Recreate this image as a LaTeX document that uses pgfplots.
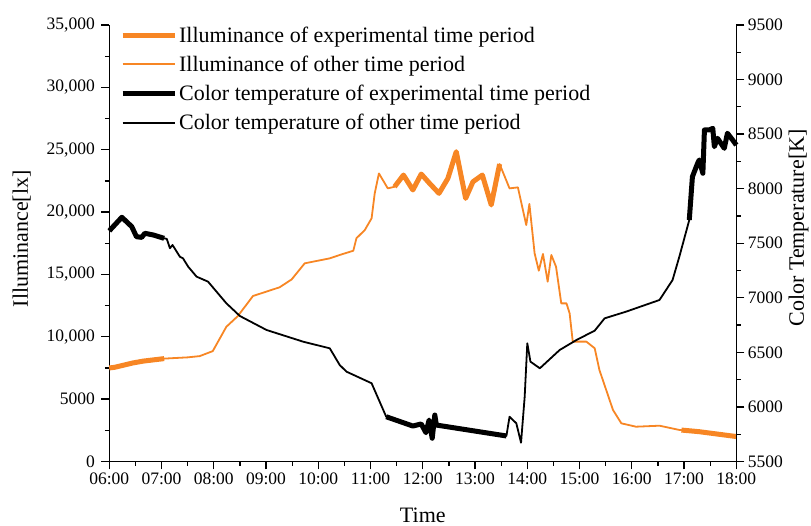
\documentclass[border=0pt]{standalone}
\usepackage{pgfplots}
\pgfplotsset{compat=1.18}
\usepackage{fontspec}
\setmainfont{Liberation Serif}
\definecolor{ora}{RGB}{247,134,36}
\pgfplotsset{
  common/.style={
    scale only axis, width=627pt, height=436.5pt,
    xmin=6, xmax=18,
    tick align=outside,
    major tick length=8pt, minor tick length=4.5pt,
    every tick/.style={line width=1.3pt, black},
    axis line style={line width=1.3pt},
    ticklabel style={font=\fontsize{17.5}{20}\selectfont},
    /pgf/number format/assume math mode=true,
    scaled y ticks=false,
    label style={font=\fontsize{22}{26}\selectfont},
    unbounded coords=jump,
    clip=false,
  }
}
\begin{document}
\begin{tikzpicture}
\path[use as bounding box] (-109.3pt,-64.5pt) rectangle (701.7pt,461.5pt);
\begin{axis}[common,
  axis x line*=bottom, axis y line*=left,
  ymin=0, ymax=35000,
  ytick={0,5000,10000,15000,20000,25000,30000,35000},
  yticklabels={0,5000,{10,000},{15,000},{20,000},{25,000},{30,000},{35,000}},
  yticklabel style={xshift=-3pt},
  minor y tick num=1,
  xtick={6,7,8,9,10,11,12,13,14,15,16,17,18},
  xticklabels={06:00,07:00,08:00,09:00,10:00,11:00,12:00,13:00,14:00,15:00,16:00,17:00,18:00},
  minor x tick num=1,
  xlabel={Time},
  xlabel style={at={(axis description cs:0.5,-0.1226)}, anchor=center},
  ylabel={Illuminance[lx]},
  ylabel style={at={(axis description cs:-0.1397,0.51)}, anchor=center, rotate=0},
]
% Illuminance, full series (thin)
\addplot[ora, line width=1.8pt, line join=round] coordinates {
(6.00,7500) (6.10,7550) (6.25,7700) (6.45,7900) (6.65,8050) (6.85,8150) (7.05,8250)
(7.50,8350) (7.73,8450) (7.98,8850) (8.24,10800) (8.46,11660) (8.75,13270)
(9.26,13970) (9.49,14600) (9.74,15890) (10.22,16290) (10.41,16560) (10.67,16900)
(10.73,17900) (10.89,18560) (11.02,19500) (11.08,21500) (11.16,23100) (11.33,21900)
(11.46,22030) (11.63,22970) (11.81,21770) (11.97,23050) (12.13,22300) (12.31,21500)
(12.48,22700) (12.64,24840) (12.82,21100) (12.96,22430) (13.14,22970) (13.31,20570)
(13.47,23850) (13.66,21900) (13.82,21980) (13.98,18960) (14.04,20650) (14.14,16690)
(14.22,15300) (14.30,16640) (14.39,14420) (14.46,16560) (14.55,15620) (14.65,12680)
(14.75,12680) (14.81,11880) (14.87,9610) (15.13,9610) (15.29,9080) (15.38,7340)
(15.64,4130) (15.80,3060) (16.08,2790) (16.53,2870) (16.91,2530) (17.29,2390)
(17.93,2040) (18.00,2000)
};
% Illuminance, experimental periods (thick)
\addplot[ora, line width=5pt, line join=round] coordinates {
(6.00,7500) (6.10,7550) (6.25,7700) (6.45,7900) (6.65,8050) (6.85,8150) (7.05,8250)
(7.06,nan)
(11.46,22030) (11.63,22970) (11.81,21770) (11.97,23050) (12.13,22300) (12.31,21500)
(12.48,22700) (12.64,24840) (12.82,21100) (12.96,22430) (13.14,22970) (13.31,20570)
(13.47,23850)
(13.48,nan)
(16.95,2520) (17.29,2390) (17.93,2040) (18.00,2000)
};
\end{axis}
\begin{axis}[common,
  axis x line=none, axis y line*=right,
  ymin=5500, ymax=9500,
  ytick={5500,6000,6500,7000,7500,8000,8500,9000,9500},
  minor y tick num=1,
  yticklabel style={/pgf/number format/.cd, 1000 sep={}},
  ylabel={Color Temperature[K]},
  ylabel style={at={(axis description cs:1.0995,0.535)}, anchor=center, rotate=0, inner sep=0pt},
  legend style={at={(axis description cs:0.017,1.006)}, anchor=north west,
    draw=none, fill=none, font=\fontsize{22}{26}\selectfont,
    row sep=8.3pt, inner xsep=0pt},
  legend cell align=left,
  legend image code/.code={\draw[#1] (0pt,0pt) -- (52pt,0pt);},
]
\addlegendimage{ora, line width=5pt}
\addlegendentry{Illuminance of experimental time period}
\addlegendimage{ora, line width=1.8pt}
\addlegendentry{Illuminance of other time period}
\addlegendimage{black, line width=5pt}
\addlegendentry{Color temperature of experimental time period}
\addlegendimage{black, line width=1.8pt}
\addlegendentry{Color temperature of other time period}
% Colour temperature, full series (thin)
\addplot[black, line width=1.8pt, line join=round, forget plot] coordinates {
(6.00,7614) (6.24,7738) (6.43,7652) (6.52,7560) (6.62,7554) (6.68,7591) (6.84,7576)
(7.05,7545) (7.10,7540) (7.16,7454) (7.21,7484) (7.35,7377) (7.41,7362) (7.51,7285)
(7.67,7194) (7.89,7148) (8.24,6950) (8.50,6833) (9.01,6705) (9.71,6598) (10.22,6537)
(10.41,6384) (10.54,6323) (11.02,6217) (11.30,5910) (11.81,5825) (11.97,5844)
(12.06,5764) (12.12,5880) (12.18,5713) (12.23,5926) (12.26,5834) (13.60,5734)
(13.66,5910) (13.79,5850) (13.88,5672) (13.95,6094) (14.00,6583) (14.06,6415)
(14.24,6354) (14.62,6522) (14.94,6613) (15.29,6699) (15.48,6812) (15.89,6873)
(16.53,6980) (16.78,7163) (16.91,7377) (17.10,7713) (17.16,8110) (17.26,8233)
(17.29,8263) (17.36,8141) (17.39,8538) (17.48,8538) (17.55,8553) (17.58,8385)
(17.64,8462) (17.77,8370) (17.83,8508) (17.93,8446) (18.00,8400)
};
% Colour temperature, experimental periods (thick)
\addplot[black, line width=5pt, line join=round, forget plot] coordinates {
(6.00,7614) (6.24,7738) (6.43,7652) (6.52,7560) (6.62,7554) (6.68,7591) (6.84,7576)
(7.05,7545)
(7.06,nan)
(11.30,5910) (11.81,5825) (11.97,5844)
(12.06,5764) (12.12,5880) (12.18,5713) (12.23,5926) (12.26,5834) (13.60,5734)
(13.61,nan)
(17.10,7713) (17.16,8110) (17.26,8233)
(17.29,8263) (17.36,8141) (17.39,8538) (17.48,8538) (17.55,8553) (17.58,8385)
(17.64,8462) (17.77,8370) (17.83,8508) (17.93,8446) (18.00,8400)
};
\end{axis}
\end{tikzpicture}
\end{document}
